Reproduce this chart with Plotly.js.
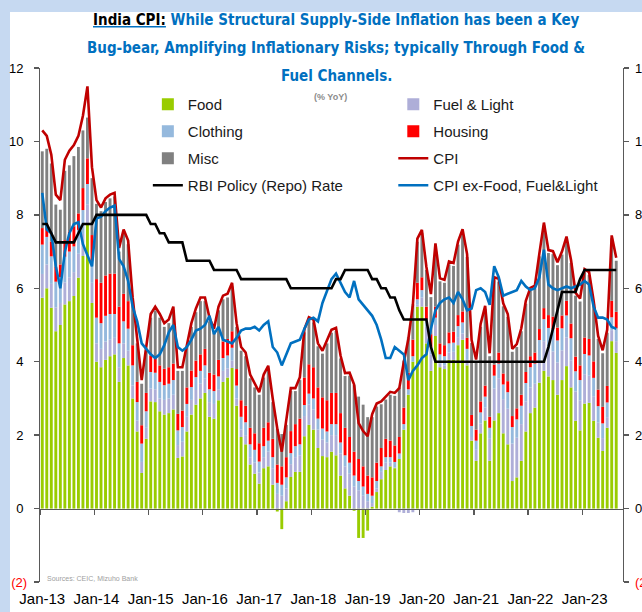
<!DOCTYPE html>
<html>
<head>
<meta charset="utf-8">
<script src="https://cdn.plot.ly/plotly-3.0.1.min.js"></script>
<style>
  html, body { margin:0; padding:0; background:#ffffff; width:642px; height:612px; overflow:hidden; }
  #bandLeft { position:absolute; left:0; top:0; width:10px; height:612px; background:#c6d9f1; }
  #bandTop { position:absolute; left:0; top:0; width:642px; height:12px; background:#c6d9f1; }
  #chart { position:absolute; left:0; top:0; width:642px; height:612px; }
</style>
</head>
<body>
<div id="bandLeft"></div>
<div id="bandTop"></div>
<div id="chart"></div>
<script>
// ---------- DATA (monthly, Jan-13 .. Aug-23), % YoY and contributions (pp) ----------
const monthNames = ['Jan','Feb','Mar','Apr','May','Jun','Jul','Aug','Sep','Oct','Nov','Dec'];
const months = [];
for (let y = 13; y <= 23; y++) {
  for (let m = 0; m < 12; m++) {
    if (y === 23 && m > 7) break;
    months.push(monthNames[m] + '-' + y);
  }
}
const tickValsY = [-2, 0, 2, 4, 6, 8, 10, 12];
const tickLabelsY = ['<span style="color:#ff0000">(2)</span>', '0\u00a0', '2\u00a0', '4\u00a0', '6\u00a0', '8\u00a0', '10\u00a0', '12\u00a0'];

const food = [
  5.74, 6.0, 5.47, 4.83, 5.0, 5.56, 5.65, 5.79, 6.29, 6.88, 7.74, 5.6,
  4.0, 3.85, 4.05, 4.15, 4.2, 3.45, 4.1, 3.9, 3.0, 2.1, 0.97, 1.9,
  2.92, 2.9, 2.65, 2.56, 2.6, 2.7, 1.38, 1.42, 2.1, 2.56, 2.83, 3.0,
  3.15, 2.5, 2.45, 2.95, 3.45, 3.57, 3.83, 2.8, 1.95, 1.75, 1.2, 0.95,
  0.68, 1.1, 1.15, 0.65, -0.08, -0.56, 0.2, 0.86, 1.0, 1.0, 1.97, 2.28,
  2.15, 1.65, 1.43, 1.4, 1.55, 1.45, 0.9, 0.55, 0.35, -0.06, -0.8, -0.8,
  -0.6, 0.05, 0.45, 0.8, 1.05, 1.15, 1.1, 1.35, 2.15, 3.1, 4.0, 5.5,
  5.5, 4.5, 3.75, 4.7, 3.85, 3.8, 4.05, 4.05, 4.45, 4.6, 3.9, 1.85,
  1.3, 2.05, 2.4, 1.3, 2.4, 2.6, 2.05, 1.75, 0.75, 0.85, 1.3, 2.1,
  2.6, 2.75, 3.43, 3.75, 3.6, 3.5, 3.1, 3.5, 3.88, 3.3, 2.39, 2.13,
  2.86, 2.88, 2.39, 1.93, 1.57, 2.2, 4.56, 4.24
];
const fuelLight = [
  0.65, 0.65, 0.65, 0.65, 0.6, 0.6, 0.65, 0.65, 0.65, 0.6, 0.55, 0.55,
  0.5, 0.5, 0.5, 0.45, 0.45, 0.4, 0.4, 0.4, 0.35, 0.3, 0.3, 0.3,
  0.35, 0.35, 0.35, 0.4, 0.4, 0.4, 0.35, 0.4, 0.4, 0.4, 0.4, 0.4,
  0.4, 0.4, 0.4, 0.3, 0.3, 0.25, 0.2, 0.2, 0.2, 0.25, 0.2, 0.3,
  0.3, 0.3, 0.4, 0.45, 0.4, 0.35, 0.35, 0.35, 0.4, 0.45, 0.55, 0.55,
  0.55, 0.5, 0.45, 0.4, 0.45, 0.55, 0.6, 0.6, 0.6, 0.6, 0.5, 0.35,
  0.2, 0.1, 0.1, 0.2, 0.2, 0.1, 0.02, -0.1, -0.12, -0.12, -0.1, 0.05,
  0.25, 0.45, 0.45, 0.3, 0.1, 0.1, 0.2, 0.22, 0.22, 0.17, 0.15, 0.1,
  0.3, 0.27, 0.35, 0.6, 0.87, 0.95, 0.93, 0.97, 1.02, 1.08, 1.0, 0.82,
  0.7, 0.65, 0.56, 0.81, 0.72, 0.78, 0.88, 0.81, 0.78, 0.74, 0.8, 0.82,
  0.8, 0.74, 0.67, 0.41, 0.35, 0.29, 0.3, 0.32
];
const clothing = [
  0.8, 0.75, 0.75, 0.7, 0.7, 0.7, 0.7, 0.7, 0.65, 0.65, 0.55, 0.6,
  0.7, 0.7, 0.7, 0.7, 0.65, 0.65, 0.6, 0.6, 0.55, 0.5, 0.5, 0.45,
  0.45, 0.45, 0.45, 0.4, 0.4, 0.4, 0.4, 0.4, 0.35, 0.35, 0.35, 0.35,
  0.35, 0.35, 0.35, 0.35, 0.35, 0.35, 0.35, 0.35, 0.35, 0.35, 0.35, 0.35,
  0.3, 0.3, 0.3, 0.3, 0.3, 0.3, 0.3, 0.3, 0.3, 0.3, 0.3, 0.3,
  0.3, 0.3, 0.3, 0.3, 0.3, 0.3, 0.3, 0.3, 0.3, 0.3, 0.25, 0.25,
  0.2, 0.2, 0.2, 0.15, 0.15, 0.15, 0.15, 0.15, 0.15, 0.15, 0.15, 0.15,
  0.2, 0.2, 0.2, 0.2, 0.25, 0.25, 0.25, 0.25, 0.3, 0.3, 0.3, 0.3,
  0.25, 0.3, 0.3, 0.3, 0.35, 0.4, 0.4, 0.45, 0.45, 0.5, 0.5, 0.5,
  0.55, 0.55, 0.6, 0.6, 0.6, 0.6, 0.6, 0.6, 0.6, 0.6, 0.55, 0.55,
  0.55, 0.55, 0.5, 0.45, 0.4, 0.4, 0.35, 0.35
];
const housing = [
  0.45, 0.35, 0.4, 0.4, 0.35, 0.45, 0.55, 0.55, 0.45, 0.6, 0.7, 0.7,
  1.05, 1.1, 1.1, 1.1, 1.1, 1.0, 0.75, 0.75, 0.55, 0.55, 0.5, 0.5,
  0.45, 0.45, 0.45, 0.45, 0.45, 0.45, 0.45, 0.45, 0.45, 0.45, 0.45, 0.45,
  0.45, 0.45, 0.45, 0.45, 0.45, 0.45, 0.45, 0.45, 0.45, 0.45, 0.45, 0.45,
  0.5, 0.5, 0.5, 0.5, 0.5, 0.5, 0.55, 0.6, 0.6, 0.7, 0.75, 0.8,
  0.85, 0.85, 0.85, 0.85, 0.85, 0.85, 0.8, 0.75, 0.7, 0.65, 0.6, 0.55,
  0.5, 0.5, 0.5, 0.5, 0.5, 0.45, 0.45, 0.45, 0.45, 0.45, 0.45, 0.45,
  0.35, 0.35, 0.35, 0.3, 0.3, 0.3, 0.3, 0.3, 0.3, 0.3, 0.3, 0.3,
  0.3, 0.3, 0.3, 0.3, 0.3, 0.3, 0.3, 0.3, 0.3, 0.3, 0.3, 0.3,
  0.3, 0.3, 0.3, 0.3, 0.35, 0.35, 0.35, 0.35, 0.4, 0.4, 0.4, 0.4,
  0.45, 0.45, 0.45, 0.45, 0.45, 0.45, 0.45, 0.45
];
const misc = [
  2.09, 2.05, 2.13, 1.7, 1.49, 1.89, 1.8, 1.91, 1.81, 1.57, 1.11, 1.55,
  2.05, 1.95, 2.0, 2.05, 2.1, 1.5, 1.65, 1.55, 1.2, 1.05, 1.13, 1.15,
  1.03, 1.25, 1.3, 1.14, 1.2, 1.45, 1.17, 1.08, 1.1, 1.19, 1.32, 1.45,
  1.3, 1.4, 1.15, 1.35, 1.15, 1.13, 1.22, 1.15, 1.35, 1.35, 1.35, 1.25,
  1.32, 1.37, 1.45, 1.0, 0.98, 0.88, 0.88, 1.09, 0.9, 1.05, 1.23, 1.2,
  1.22, 1.12, 1.19, 1.55, 1.64, 1.69, 1.49, 1.41, 1.67, 1.81, 1.7, 1.68,
  1.59, 1.64, 1.53, 1.19, 1.07, 1.25, 1.35, 1.35, 1.28, 0.96, 0.96, 1.12,
  1.21, 1.0, 1.01, 1.64, 1.69, 1.7, 1.85, 1.79, 1.92, 2.16, 2.2, 1.96,
  1.83, 2.03, 2.09, 1.65, 2.3, 1.93, 1.83, 1.75, 1.75, 1.67, 1.73, 1.86,
  1.78, 1.74, 1.98, 2.25, 1.69, 1.7, 1.7, 1.66, 1.67, 1.65, 1.66, 1.74,
  1.78, 1.74, 1.57, 1.38, 1.46, 1.45, 1.7, 1.39
];
const cpi = [
  10.3, 10.15, 9.64, 8.55, 8.4, 9.5, 9.75, 9.9, 10.15, 10.7, 11.5, 9.3,
  8.4, 8.2, 8.45, 8.55, 8.6, 7.1, 7.6, 7.3, 5.75, 4.6, 3.5, 4.4,
  5.3, 5.5, 5.3, 5.05, 5.15, 5.5, 3.85, 3.85, 4.5, 5.05, 5.45, 5.75,
  5.75, 5.2, 4.9, 5.5, 5.8, 5.85, 6.15, 5.05, 4.4, 4.25, 3.65, 3.4,
  3.17, 3.65, 3.89, 2.99, 2.18, 1.55, 2.36, 3.28, 3.28, 3.58, 4.88, 5.21,
  5.15, 4.5, 4.3, 4.58, 4.87, 4.92, 4.17, 3.69, 3.7, 3.38, 2.33, 2.11,
  1.97, 2.57, 2.86, 2.92, 3.05, 3.18, 3.15, 3.28, 3.99, 4.62, 5.54, 7.35,
  7.59, 6.58, 5.84, 7.22, 6.27, 6.23, 6.73, 6.69, 7.27, 7.61, 6.93, 4.59,
  4.06, 5.03, 5.52, 4.23, 6.3, 6.26, 5.59, 5.3, 4.35, 4.48, 4.91, 5.66,
  6.01, 6.07, 6.95, 7.79, 7.04, 7.01, 6.71, 7.0, 7.41, 6.77, 5.88, 5.72,
  6.52, 6.44, 5.66, 4.7, 4.31, 4.87, 7.44, 6.83
];
const repo = [
  7.75, 7.75, 7.5, 7.25, 7.25, 7.25, 7.25, 7.25, 7.5, 7.75, 7.75, 7.75,
  8, 8, 8, 8, 8, 8, 8, 8, 8, 8, 8, 8,
  7.75, 7.75, 7.5, 7.5, 7.25, 7.25, 7.25, 7.25, 6.75, 6.75, 6.75, 6.75,
  6.75, 6.75, 6.5, 6.5, 6.5, 6.5, 6.5, 6.5, 6.25, 6.25, 6.25, 6.25,
  6.25, 6.25, 6.25, 6.25, 6.25, 6.25, 6.25, 6, 6, 6, 6, 6,
  6, 6, 6, 6, 6, 6.25, 6.25, 6.5, 6.5, 6.5, 6.5, 6.5,
  6.5, 6.25, 6.25, 6, 6, 5.75, 5.75, 5.4, 5.15, 5.15, 5.15, 5.15,
  5.15, 5.15, 4.4, 4, 4, 4, 4, 4, 4, 4, 4, 4,
  4, 4, 4, 4, 4, 4, 4, 4, 4, 4, 4, 4,
  4, 4, 4, 4, 4.4, 4.9, 5.4, 5.9, 5.9, 5.9, 5.9, 6.25,
  6.5, 6.5, 6.5, 6.5, 6.5, 6.5, 6.5, 6.5
];
const coreCpi = [
  8.6, 7.6, 7.5, 6.6, 6.0, 7.0, 7.5, 7.75, 7.8, 7.2, 6.9, 6.6,
  7.9, 7.95, 8.1, 8.2, 8.25, 6.8, 6.6, 6.2, 5.5, 5.1, 4.5, 4.35,
  4.2, 4.1, 4.2, 4.45, 4.8, 5.0, 4.4, 4.3, 4.4, 4.6, 4.85, 4.9,
  5.0, 5.25, 4.75, 4.95, 4.6, 4.55, 4.5, 4.65, 4.85, 4.9, 4.9, 4.95,
  4.85, 5.0, 5.1, 4.4, 4.25, 3.9, 4.2, 4.5, 4.55, 4.6, 4.9, 5.15,
  5.2, 5.1, 5.6, 5.95, 6.25, 6.4, 6.15, 5.9, 5.75, 6.2, 5.7, 5.55,
  5.4, 5.25, 5.0, 4.6, 4.1, 4.1, 4.4, 4.3, 4.2, 3.5, 3.75, 3.9,
  4.1, 4.2, 4.9, 5.4, 5.6, 5.7, 5.75, 5.6, 5.9, 5.7, 5.4, 5.45,
  5.95, 6.0, 5.9, 5.55, 6.6, 6.3, 5.8, 5.85, 5.9, 5.95, 6.2, 6.05,
  5.95, 6.0, 6.3, 7.05, 6.1, 6.0, 5.95, 6.0, 6.05, 6.0, 6.05, 6.1,
  6.2, 6.1, 5.5, 5.2, 5.2, 5.15, 4.95, 4.9
];

// ---------- TRACES ----------
const barSeries = [
  {name: 'Food', y: food, color: '#99cc00', legend: 'legend'},
  {name: 'Fuel & Light', y: fuelLight, color: '#aeaed8', legend: 'legend2'},
  {name: 'Clothing', y: clothing, color: '#95b9dd', legend: 'legend'},
  {name: 'Housing', y: housing, color: '#ff0000', legend: 'legend2'},
  {name: 'Misc', y: misc, color: '#808080', legend: 'legend'}
];
const traces = barSeries.map((s, k) => ({
  type: 'bar', x: months, y: s.y, name: s.name,
  marker: {color: s.color, line: {width: 0}},
  legend: s.legend, legendgroup: 'g' + k,
  hoverinfo: 'skip'
}));
traces.push({
  type: 'scatter', mode: 'lines', x: months, y: cpi, name: 'CPI',
  line: {color: '#c00000', width: 2.6}, legend: 'legend2', legendgroup: 'g5', hoverinfo: 'skip'
});
traces.push({
  type: 'scatter', mode: 'lines', x: months, y: repo, name: 'RBI Policy (Repo) Rate',
  xaxis: 'x2', yaxis: 'y',
  line: {color: '#000000', width: 2.6}, legend: 'legend', legendgroup: 'g6', hoverinfo: 'skip'
});
traces.push({
  type: 'scatter', mode: 'lines', x: months, y: coreCpi, name: 'CPI ex-Food, Fuel&Light',
  xaxis: 'x', yaxis: 'y2',
  line: {color: '#0070c0', width: 2.6}, legend: 'legend2', legendgroup: 'g7', hoverinfo: 'skip'
});

// ---------- LAYOUT ----------
const baseFont = 'Liberation Sans, Arial, sans-serif';
const titleFont = 'DejaVu Sans Condensed, Liberation Sans Narrow, Liberation Sans, Arial, sans-serif';
const axisY = {
  range: [-2, 12], tickvals: tickValsY, ticktext: tickLabelsY,
  showline: true, linecolor: '#595959', linewidth: 1.3,
  ticks: 'outside', ticklen: 5, tickcolor: '#595959', tickwidth: 1.3,
  showgrid: false, zeroline: false, tickfont: {family: baseFont, size: 13, color: '#000'},
  fixedrange: true
};
const legendBase = {
  xanchor: 'left', yanchor: 'top', bgcolor: 'rgba(0,0,0,0)', borderwidth: 0,
  font: {family: baseFont, size: 15, color: '#1a1a1a'},
  traceorder: 'grouped', tracegroupgap: 4.5, itemwidth: 30, orientation: 'v'
};
const titleStyle = {family: titleFont, size: 15, color: '#0070c0'};
const layout = {
  width: 642, height: 612, autosize: false,
  margin: {l: 40, r: 19.3, t: 68, b: 29.5, pad: 0},
  paper_bgcolor: 'rgba(0,0,0,0)', plot_bgcolor: 'rgba(0,0,0,0)',
  barmode: 'relative', bargap: 0.36,
  showlegend: true,
  xaxis: {
    type: 'category', range: [-0.5, 128.5], dtick: 12, tick0: 0,
    ticks: '', showline: false, showgrid: false, zeroline: false,
    tickangle: 0, ticklabelstandoff: 6,
    tickfont: {family: baseFont, size: 15, color: '#000'}, fixedrange: true
  },
  xaxis2: {
    type: 'category', overlaying: 'x', anchor: 'free', position: 2 / 14, side: 'bottom',
    range: [-0.5, 128.5], dtick: 12, tick0: 0, tickson: 'boundaries',
    showticklabels: false, ticks: 'outside', ticklen: 5, tickcolor: '#595959', tickwidth: 1.3,
    showline: true, linecolor: '#595959', linewidth: 1.3, showgrid: false, zeroline: false,
    fixedrange: true
  },
  yaxis: Object.assign({}, axisY, {side: 'left', ticklabelstandoff: 4}),
  yaxis2: Object.assign({}, axisY, {side: 'right', overlaying: 'y', anchor: 'x', ticklabelstandoff: 3}),
  legend: Object.assign({}, legendBase, {x: 0.185, y: 0.961}),
  legend2: Object.assign({}, legendBase, {x: 0.606, y: 0.961}),
  annotations: [
    {xref: 'paper', yref: 'paper', x: 0.508, y: 1.0933, xanchor: 'center', yanchor: 'middle', showarrow: false,
     text: '<b><u><span style="color:#000000">India CPI:</span></u> While Structural Supply-Side Inflation has been a Key</b>',
     font: titleStyle},
    {xref: 'paper', yref: 'paper', x: 0.508, y: 1.0389, xanchor: 'center', yanchor: 'middle', showarrow: false,
     text: '<b>Bug-bear, Amplifying Inflationary Risks; typically Through Food &amp;</b>',
     font: titleStyle},
    {xref: 'paper', yref: 'paper', x: 0.508, y: 0.9845, xanchor: 'center', yanchor: 'middle', showarrow: false,
     text: '<b>Fuel Channels.</b>',
     font: titleStyle},
    {xref: 'paper', yref: 'paper', x: 0.4977, y: 0.9436, xanchor: 'center', yanchor: 'middle', showarrow: false,
     text: '<b>(% YoY)</b>', font: {family: baseFont, size: 9, color: '#8c8c8c'}},
    {xref: 'paper', yref: 'paper', x: 0.009, y: 0.006, xanchor: 'left', yanchor: 'middle', showarrow: false,
     text: 'Sources: CEIC, Mizuho Bank', font: {family: baseFont, size: 7, color: '#a0a0a0'}}
  ]
};

Plotly.newPlot('chart', traces, layout, {staticPlot: true, displayModeBar: false});
</script>
</body>
</html>
